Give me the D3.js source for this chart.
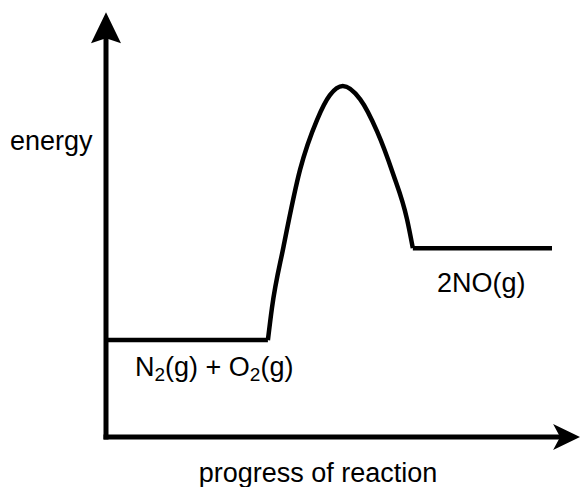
<!DOCTYPE html>
<html>
<head>
<meta charset="utf-8">
<script src="https://cdn.jsdelivr.net/npm/d3@7"></script>
<style>
  html, body { margin: 0; padding: 0; background: #fff; }
  svg { display: block; }
  text { font-family: "Liberation Sans", Arial, sans-serif; fill: #000; }
</style>
</head>
<body>
<svg id="chart" width="580" height="487"></svg>
<script>
// ---- data (arbitrary units: progress 0..100, energy 0..100 = peak) ----
const reactantProgress = [0, 36.3];
const reactantEnergy = [27.6, 27.6];
const barrierProgress = [36.3, 37.2, 39.8, 43.5, 47.3, 50.2, 53.1, 57.0, 60.8, 64.3, 67.5, 68.8];
const barrierEnergy   = [27.6, 36.7, 54.2, 76.1, 90.3, 97.4, 100, 96.2, 87.0, 75.2, 62.0, 53.8];
const productProgress = [68.8, 100];
const productEnergy = [53.8, 53.8];
const axisLabels = ["energy", "progress of reaction"];
const speciesLabels = [["N", "2", "(g) + O", "2", "(g)"], ["2NO(g)"]];

const svg = d3.select("#chart");
const x = d3.scaleLinear().domain([0, 100]).range([106, 552]);
const y = d3.scaleLinear().domain([0, 100]).range([437, 86]);

// axes
const xEnd = 106.3, yEnd = 121;
svg.append("line")
  .attr("x1", x(0) - 2.5).attr("y1", y(0)).attr("x2", x(xEnd) - 18).attr("y2", y(0))
  .attr("stroke", "#000").attr("stroke-width", 5);
svg.append("line")
  .attr("x1", x(0)).attr("y1", y(0) + 2.5).attr("x2", x(0)).attr("y2", y(yEnd) + 20)
  .attr("stroke", "#000").attr("stroke-width", 5);
// arrowheads
const tx = x(xEnd), ty = y(0);
svg.append("path")
  .attr("d", `M${tx},${ty} L${tx - 27},${ty - 13} L${tx - 20},${ty} L${tx - 27},${ty + 13} Z`)
  .attr("fill", "#000");
const ux = x(0), uy = y(yEnd);
svg.append("path")
  .attr("d", `M${ux},${uy} L${ux + 15},${uy + 31} L${ux},${uy + 26} L${ux - 15},${uy + 31} Z`)
  .attr("fill", "#000");

// energy profile
const lin = d3.line().x(d => x(d[0])).y(d => y(d[1]));
const curve = d3.line().x(d => x(d[0])).y(d => y(d[1])).curve(d3.curveMonotoneX);
const style = p => p.attr("fill", "none").attr("stroke", "#000").attr("stroke-width", 4.5)
  .attr("stroke-linejoin", "round").attr("stroke-linecap", "butt");
svg.append("path").datum(d3.zip(reactantProgress, reactantEnergy)).attr("d", lin).call(style);
svg.append("path").datum(d3.zip(barrierProgress, barrierEnergy)).attr("d", curve).call(style);
svg.append("path").datum(d3.zip(productProgress, productEnergy)).attr("d", lin).call(style);

// labels
const fs = 27;
svg.append("text").attr("x", 10).attr("y", 150).attr("font-size", fs).text(axisLabels[0]);
svg.append("text").attr("x", 318).attr("y", 482).attr("text-anchor", "middle")
  .attr("font-size", fs).text(axisLabels[1]);

const t1 = svg.append("text").attr("x", 135).attr("y", 376).attr("font-size", fs);
speciesLabels[0].forEach((s, i) => {
  const sub = (i === 1 || i === 3);
  t1.append("tspan").text(s)
    .attr("font-size", sub ? 19 : fs)
    .attr("dy", sub ? 5 : (i === 0 ? 0 : -5));
});
svg.append("text").attr("x", 437).attr("y", 292).attr("font-size", fs).text(speciesLabels[1][0]);
</script>
</body>
</html>
